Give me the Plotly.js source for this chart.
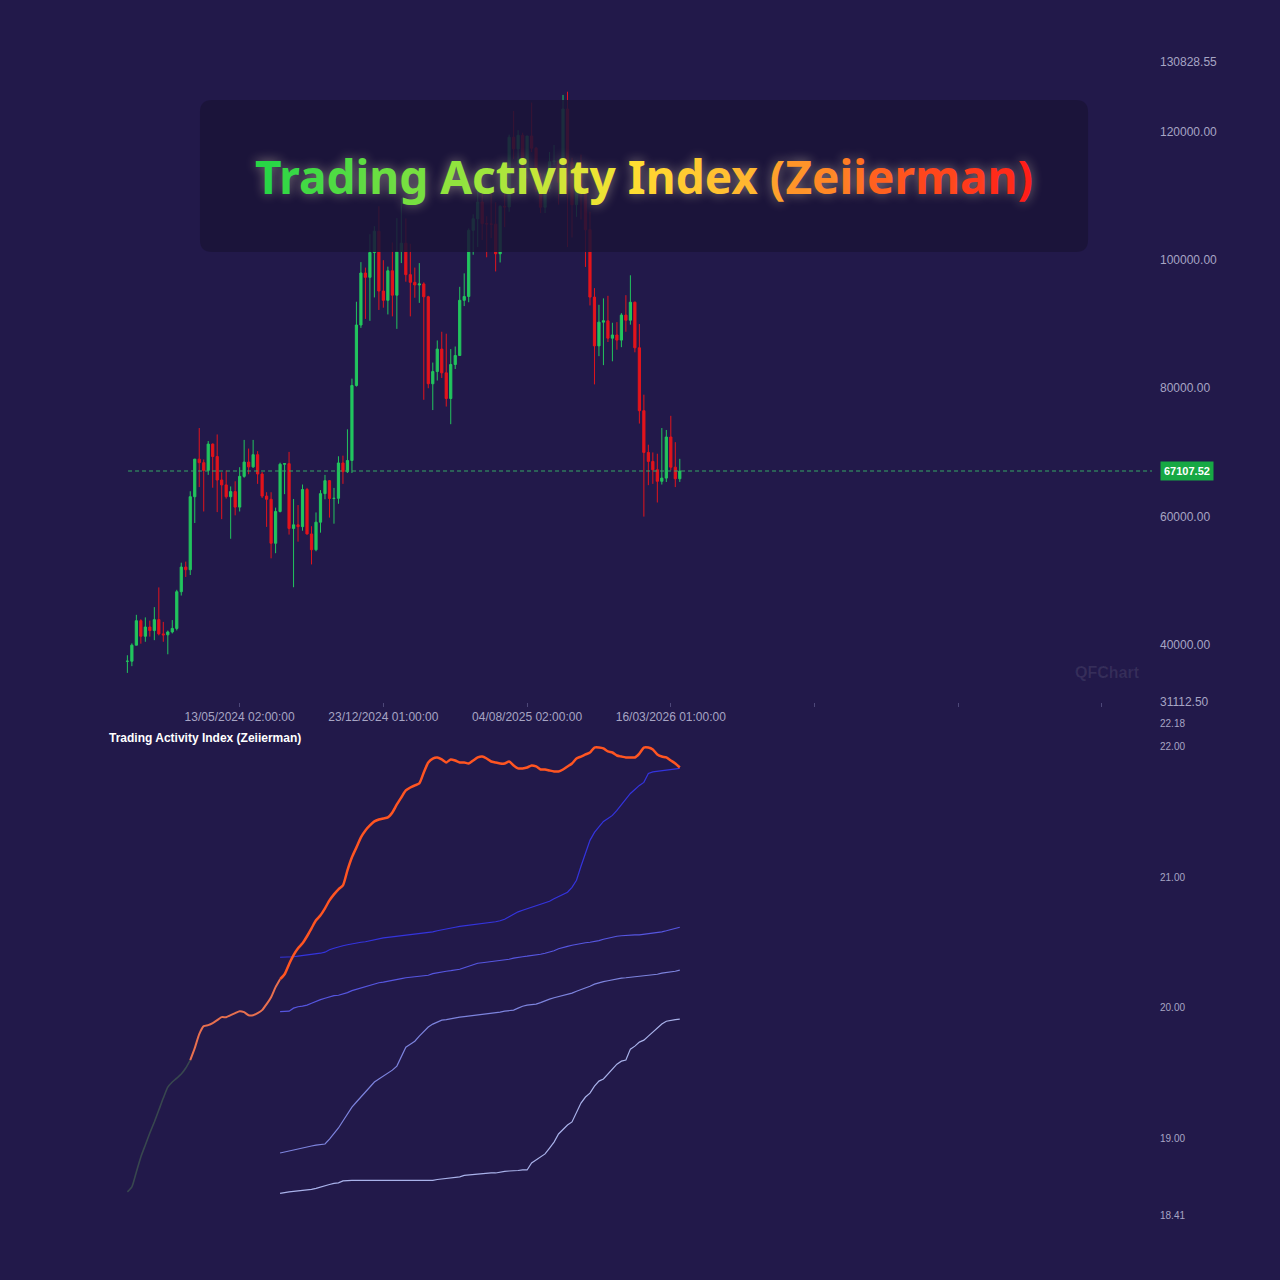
<!DOCTYPE html>
<html>
<head>
<meta charset="utf-8">
<script src="https://cdn.plot.ly/plotly-3.0.1.min.js"></script>
<style>
  html, body { margin: 0; padding: 0; background: #22194a; }
  #chart { width: 1280px; height: 1280px; }
</style>
</head>
<body>
<div id="chart"></div>
<script>
// ---------- DATA ----------
const firstWeek = '2023-11-20';   // Monday of the first weekly candle
const candleCount = 124;

const open = [37450,37470,39970,43780,41360,42800,42250,43950,41730,41580,
  42030,42580,48300,52140,51730,63100,68950,68400,67200,71300,
  69360,65700,64940,63100,63900,61480,66270,68500,67750,69650,
  66640,63200,62700,55850,60800,68160,68250,58160,58720,58440,
  64220,57300,54840,59130,63580,65600,62820,62850,68360,67000,
  68740,80430,89850,97950,97280,101150,104460,95150,93700,98300,
  94500,101300,102600,97700,96500,96100,96250,94250,80700,82600,
  86100,82400,78400,83700,85100,93700,94300,104600,106400,109000,
  105650,105600,105550,100950,108350,108250,119100,117300,119400,114200,
  119300,117400,111000,108200,111100,115300,115400,112100,123500,115200,
  108600,114500,110600,104700,94200,86600,90300,90500,87800,88300,
  87500,91400,90600,93400,86300,76500,70000,68600,67300,65500,
  66000,72400,67700,65900];
const high = [38400,40250,44700,44000,44300,43800,45900,48970,43600,42250,
  43880,48600,52820,52990,63950,69000,73800,68900,71770,71400,
  72800,66900,67200,64700,65500,67700,71950,70600,71950,70200,
  66950,63800,63800,61400,68400,68350,70080,62750,61800,65000,
  64480,58500,60650,64130,66500,65700,64470,69400,69500,73600,
  81500,93480,99650,98800,104000,105250,108350,99950,98950,102700,
  106500,109600,106450,102500,98800,99500,96500,94400,84000,87450,
  88800,88500,86100,86500,95800,97900,104900,107100,111950,110700,
  106800,110600,108950,108500,110500,119500,123200,120200,119800,119300,
  124500,117600,113500,113400,116800,117900,115400,125700,126200,115900,
  114800,116400,110800,107500,95600,93000,94000,94400,90200,90300,
  91700,94500,97600,93500,90000,79000,71200,70000,69800,73800,
  73500,75700,71600,69000];
const low = [35650,36700,39970,40200,40500,41300,40750,41500,40500,38550,
  41800,42270,47700,50600,50900,59000,64600,60800,66500,64500,
  60700,59600,62800,56550,60200,60800,66050,66600,67600,65100,
  62900,58400,53500,54300,60650,63500,57200,49000,56100,57800,
  57200,52550,54600,57500,62700,59850,58900,62000,65100,66800,
  66800,80250,89400,90800,90500,94150,92200,92550,91500,91200,
  89250,99500,96600,91200,94100,93300,78200,80000,76600,81200,
  81600,77150,74400,83000,85100,92800,93400,100800,102000,103100,
  100400,103400,98200,99600,105100,107500,115700,114700,112000,112700,
  116800,110600,107300,107300,110600,114800,108600,111500,102000,103500,
  106700,106300,98900,92900,80600,85000,83600,87200,84200,86000,
  86400,88800,89900,85600,74500,60000,64900,65100,62200,65000,
  65400,67200,64600,65400];
const close = [37470,39970,43780,41360,42800,42250,43950,41730,41580,42030,
  42580,48300,52140,51730,63100,68950,68400,67200,71300,69360,
  65700,64940,63100,63900,61480,66270,68500,67750,69650,66640,
  63200,62700,55850,60800,68160,68250,58160,58720,58440,64220,
  57300,54840,59130,63580,65600,62820,62850,68360,67000,68740,
  80430,89850,97950,97280,101150,104460,95150,93700,98300,94500,
  101300,102600,97700,96500,96100,96250,94250,80700,82600,86100,
  82400,78400,83700,85100,93700,94300,104600,106400,109000,105650,
  105600,105550,100950,108350,108250,119100,117300,119400,114200,119300,
  117400,111000,108200,111100,115300,115400,112100,123500,115200,108600,
  114500,110600,104700,94200,86600,90300,90500,87800,88300,87500,
  91400,90600,93400,86300,76500,70000,68600,67300,65500,66000,
  72400,67700,65900,67107.52];

// Trading Activity Index (main line), one value per week
const taiValues = [18.587,18.625,18.740,18.855,18.947,19.038,19.123,19.214,19.306,19.390,
  19.429,19.459,19.490,19.536,19.597,19.689,19.796,19.857,19.865,19.880,
  19.903,19.926,19.926,19.941,19.957,19.972,19.964,19.941,19.941,19.957,
  19.980,20.026,20.079,20.156,20.217,20.255,20.332,20.401,20.454,20.492,
  20.546,20.607,20.668,20.707,20.760,20.821,20.867,20.906,20.936,21.051,
  21.151,21.227,21.304,21.357,21.395,21.426,21.441,21.449,21.457,21.495,
  21.556,21.610,21.663,21.686,21.702,21.717,21.801,21.878,21.908,21.916,
  21.901,21.878,21.901,21.893,21.878,21.878,21.870,21.893,21.916,21.923,
  21.908,21.885,21.878,21.870,21.870,21.885,21.855,21.832,21.832,21.839,
  21.855,21.847,21.824,21.824,21.816,21.809,21.809,21.824,21.847,21.870,
  21.908,21.923,21.939,21.954,21.992,21.992,21.985,21.962,21.954,21.931,
  21.923,21.916,21.916,21.916,21.946,21.992,21.992,21.977,21.939,21.923,
  21.916,21.893,21.870,21.839];

// Reference levels, starting at week 34
const levelStart = 34;
const levelA = [20.385,20.385,20.385,20.389,20.393,20.397,20.401,20.404,20.408,20.416,
  20.424,20.443,20.454,20.466,20.473,20.481,20.489,20.496,20.500,20.504,
  20.512,20.523,20.531,20.534,20.538,20.542,20.546,20.550,20.554,20.557,
  20.561,20.565,20.569,20.573,20.580,20.588,20.596,20.600,20.607,20.615,
  20.622,20.626,20.630,20.634,20.638,20.642,20.645,20.653,20.657,20.665,
  20.676,20.695,20.714,20.733,20.745,20.756,20.768,20.783,20.791,20.802,
  20.814,20.833,20.848,20.867,20.883,20.921,20.975,21.082,21.189,21.281,
  21.342,21.388,21.426,21.449,21.472,21.510,21.556,21.602,21.640,21.671,
  21.702,21.725,21.793,21.805,21.809,21.813,21.816,21.820,21.824,21.832];
const levelB = [19.968,19.968,19.972,19.995,20.006,20.010,20.018,20.033,20.049,20.060,
  20.071,20.083,20.091,20.094,20.102,20.114,20.129,20.140,20.148,20.159,
  20.171,20.182,20.190,20.194,20.202,20.205,20.213,20.221,20.228,20.232,
  20.236,20.240,20.244,20.247,20.259,20.267,20.274,20.278,20.282,20.286,
  20.293,20.305,20.316,20.328,20.339,20.343,20.347,20.351,20.355,20.358,
  20.362,20.370,20.378,20.385,20.389,20.393,20.397,20.401,20.408,20.416,
  20.424,20.435,20.450,20.462,20.469,20.477,20.485,20.492,20.496,20.500,
  20.504,20.512,20.523,20.531,20.542,20.546,20.550,20.554,20.554,20.557,
  20.557,20.561,20.565,20.569,20.577,20.580,20.588,20.596,20.607,20.615];
const levelC = [18.885,18.893,18.904,18.912,18.920,18.924,18.931,18.939,18.946,18.950,
  18.954,18.992,19.031,19.077,19.130,19.184,19.237,19.276,19.314,19.352,
  19.390,19.429,19.452,19.475,19.498,19.520,19.551,19.628,19.696,19.719,
  19.742,19.781,19.819,19.850,19.873,19.888,19.903,19.907,19.915,19.918,
  19.926,19.930,19.934,19.941,19.945,19.949,19.953,19.957,19.957,19.964,
  19.972,19.976,19.980,19.995,20.010,20.018,20.022,20.026,20.037,20.052,
  20.064,20.075,20.083,20.091,20.098,20.110,20.125,20.137,20.148,20.163,
  20.179,20.190,20.198,20.205,20.213,20.221,20.225,20.228,20.232,20.236,
  20.240,20.244,20.244,20.247,20.255,20.263,20.267,20.274,20.278,20.286];
const levelD = [18.575,18.583,18.587,18.591,18.595,18.595,18.598,18.606,18.614,18.625,
  18.637,18.644,18.652,18.656,18.671,18.675,18.675,18.675,18.675,18.675,
  18.675,18.675,18.675,18.675,18.675,18.675,18.675,18.675,18.675,18.675,
  18.675,18.675,18.675,18.675,18.675,18.682,18.686,18.690,18.694,18.698,
  18.702,18.713,18.717,18.721,18.725,18.725,18.728,18.732,18.732,18.740,
  18.744,18.747,18.747,18.751,18.755,18.755,18.809,18.832,18.855,18.878,
  18.923,18.969,19.031,19.069,19.100,19.123,19.191,19.268,19.314,19.344,
  19.398,19.436,19.452,19.490,19.528,19.566,19.589,19.597,19.681,19.704,
  19.735,19.750,19.781,19.811,19.842,19.873,19.895,19.903,19.907,19.911];

const lastPrice = 67107.52;
const xTickDates = ['2024-05-13','2024-12-23','2025-08-04','2026-03-16','2026-10-26','2027-06-07','2028-01-17'];
const xTickLabels = ['13/05/2024 02:00:00','23/12/2024 01:00:00','04/08/2025 02:00:00','16/03/2026 01:00:00','','',''];
const priceTicks = [31112.50, 40000, 60000, 80000, 100000, 120000, 130828.55];
const taiTicks = [18.41, 19, 20, 21, 22, 22.18];
const titleText = 'Trading Activity Index (Zeiierman)';

// ---------- BUILD ----------
const weeks = [];
{
  const d0 = new Date(firstWeek + 'T00:00:00Z');
  for (let i = 0; i < candleCount; i++) {
    const d = new Date(d0.getTime() + i * 7 * 86400000);
    weeks.push(d.toISOString().slice(0, 10));
  }
}
const levelWeeks = weeks.slice(levelStart);

const BG = '#22194a';
const UP = '#22c55e';
const DOWN = '#e3141c';
const AXIS_TXT = '#a7a5c4';

const traces = [
  {
    type: 'candlestick', x: weeks, open: open, high: high, low: low, close: close,
    xaxis: 'x', yaxis: 'y',
    increasing: { line: { color: UP, width: 1 }, fillcolor: UP },
    decreasing: { line: { color: DOWN, width: 1 }, fillcolor: DOWN },
    whiskerwidth: 0, showlegend: false, hoverinfo: 'skip'
  },
  { type: 'scatter', mode: 'lines', x: levelWeeks, y: levelD, xaxis: 'x2', yaxis: 'y2',
    line: { color: '#a9b2ea', width: 1.2 }, showlegend: false, hoverinfo: 'skip' },
  { type: 'scatter', mode: 'lines', x: levelWeeks, y: levelC, xaxis: 'x2', yaxis: 'y2',
    line: { color: '#7d84de', width: 1.2 }, showlegend: false, hoverinfo: 'skip' },
  { type: 'scatter', mode: 'lines', x: levelWeeks, y: levelB, xaxis: 'x2', yaxis: 'y2',
    line: { color: '#5656e0', width: 1.2 }, showlegend: false, hoverinfo: 'skip' },
  { type: 'scatter', mode: 'lines', x: levelWeeks, y: levelA, xaxis: 'x2', yaxis: 'y2',
    line: { color: '#3434de', width: 1.2 }, showlegend: false, hoverinfo: 'skip' },
  { type: 'scatter', mode: 'lines', x: weeks.slice(0, 15), y: taiValues.slice(0, 15), xaxis: 'x2', yaxis: 'y2',
    line: { color: '#38474f', width: 1.6, shape: 'spline', smoothing: 0.6 }, showlegend: false, hoverinfo: 'skip' },
  { type: 'scatter', mode: 'lines', x: weeks.slice(14, 35), y: taiValues.slice(14, 35), xaxis: 'x2', yaxis: 'y2',
    line: { color: '#e8704f', width: 2, shape: 'spline', smoothing: 0.6 }, showlegend: false, hoverinfo: 'skip' },
  { type: 'scatter', mode: 'lines', x: weeks.slice(34), y: taiValues.slice(34), xaxis: 'x2', yaxis: 'y2',
    line: { color: '#ff5522', width: 2.5, shape: 'spline', smoothing: 0.6 }, showlegend: false, hoverinfo: 'skip' }
];

// gradient-coloured title (style only)
const stops = [[0, [40, 214, 70]], [0.3, [170, 230, 60]], [0.5, [255, 226, 50]], [0.66, [255, 176, 48]], [0.82, [255, 110, 32]], [1, [255, 30, 24]]];
function gradColor(t) {
  for (let k = 1; k < stops.length; k++) {
    if (t <= stops[k][0]) {
      const a = stops[k - 1], b = stops[k];
      const f = (t - a[0]) / (b[0] - a[0]);
      const c = a[1].map((v, j) => Math.round(v + (b[1][j] - v) * f));
      return 'rgb(' + c.join(',') + ')';
    }
  }
  return 'rgb(255,30,24)';
}
const chars = titleText.split('');
const titleHtml = '<b>' + chars.map((ch, i) =>
  ch === ' ' ? ' ' : '<span style="color:' + gradColor(i / (chars.length - 1)) + '">' + ch + '</span>'
).join('') + '</b>';

// paper geometry for the title box
const bx0 = 0.0775, bx1 = 0.938, by0 = 0.8352, by1 = 0.967, rx = 0.0116, ry = 0.0104;
const boxPath = 'M ' + (bx0 + rx) + ',' + by1 + ' L ' + (bx1 - rx) + ',' + by1 +
  ' Q ' + bx1 + ',' + by1 + ' ' + bx1 + ',' + (by1 - ry) +
  ' L ' + bx1 + ',' + (by0 + ry) + ' Q ' + bx1 + ',' + by0 + ' ' + (bx1 - rx) + ',' + by0 +
  ' L ' + (bx0 + rx) + ',' + by0 + ' Q ' + bx0 + ',' + by0 + ' ' + bx0 + ',' + (by0 + ry) +
  ' L ' + bx0 + ',' + (by1 - ry) + ' Q ' + bx0 + ',' + by1 + ' ' + (bx0 + rx) + ',' + by1 + ' Z';

const tickFont = { family: 'Liberation Sans, Arial, sans-serif', size: 12, color: AXIS_TXT };

const layout = {
  width: 1280, height: 1280,
  margin: { l: 120, r: 128, t: 62, b: 65 },
  paper_bgcolor: BG, plot_bgcolor: BG,
  showlegend: false,
  xaxis: {
    type: 'date', range: ['2023-11-08 12:00', '2028-04-04'], domain: [0, 1], anchor: 'y',
    tickmode: 'array', tickvals: xTickDates, ticktext: xTickLabels,
    ticks: 'outside', ticklen: 4, tickcolor: '#4d4778', tickfont: tickFont,
    showgrid: false, zeroline: false, showline: false,
    rangeslider: { visible: false }, fixedrange: true
  },
  yaxis: {
    domain: [0.4449, 1], range: [31112.5, 130828.55], side: 'right', anchor: 'x',
    tickmode: 'array', tickvals: priceTicks, ticktext: priceTicks.map(v => v.toFixed(2)),
    ticks: '', ticklabelstandoff: 7, tickfont: tickFont,
    showgrid: false, zeroline: false, showline: false, fixedrange: true
  },
  xaxis2: {
    type: 'date', matches: 'x', anchor: 'y2', domain: [0, 1],
    showticklabels: false, ticks: '', showgrid: false, zeroline: false, showline: false
  },
  yaxis2: {
    domain: [0, 0.4267], range: [18.41, 22.18], side: 'right', anchor: 'x2',
    tickmode: 'array', tickvals: taiTicks, ticktext: taiTicks.map(v => v.toFixed(2)),
    ticks: '', ticklabelstandoff: 7,
    tickfont: { family: 'Liberation Sans, Arial, sans-serif', size: 10, color: AXIS_TXT },
    showgrid: false, zeroline: false, showline: false, fixedrange: true
  },
  shapes: [
    { type: 'line', xref: 'paper', yref: 'y', x0: 0.0078, x1: 1, y0: lastPrice, y1: lastPrice,
      line: { color: '#35a865', width: 1, dash: '4px,3px' } },
    { type: 'path', xref: 'paper', yref: 'paper', path: boxPath, layer: 'above',
      fillcolor: 'rgba(27,20,56,0.86)', line: { width: 0 } }
  ],
  annotations: [
    { xref: 'paper', yref: 'paper', x: 0.5073, y: 0.9011, xanchor: 'center', yanchor: 'middle',
      text: titleHtml, showarrow: false,
      font: { family: 'Noto Sans, DejaVu Sans, sans-serif', size: 46, color: '#ffe030',
              shadow: '0 0 12px rgba(255,240,200,0.45)' } },
    { xref: 'paper', yref: 'paper', x: -0.0126, y: 0.4137, xanchor: 'left', yanchor: 'middle',
      text: '<b>' + titleText + '</b>', showarrow: false,
      font: { family: 'Liberation Sans, Arial, sans-serif', size: 12, color: '#ffffff' } },
    { xref: 'paper', yref: 'paper', x: 0.9564, y: 0.4709, xanchor: 'center', yanchor: 'middle',
      text: '<b>QFChart</b>', showarrow: false,
      font: { family: 'Liberation Sans, Arial, sans-serif', size: 16, color: 'rgba(255,255,255,0.09)' } },
    { xref: 'paper', yref: 'y', x: 1.0339, y: lastPrice, xanchor: 'center', yanchor: 'middle',
      text: '<b>' + lastPrice.toFixed(2) + '</b>', showarrow: false,
      bgcolor: '#17a844', borderpad: 3,
      font: { family: 'Liberation Sans, Arial, sans-serif', size: 11, color: '#ffffff' } }
  ]
};

Plotly.newPlot('chart', traces, layout, { displayModeBar: false, staticPlot: true });
</script>
</body>
</html>
